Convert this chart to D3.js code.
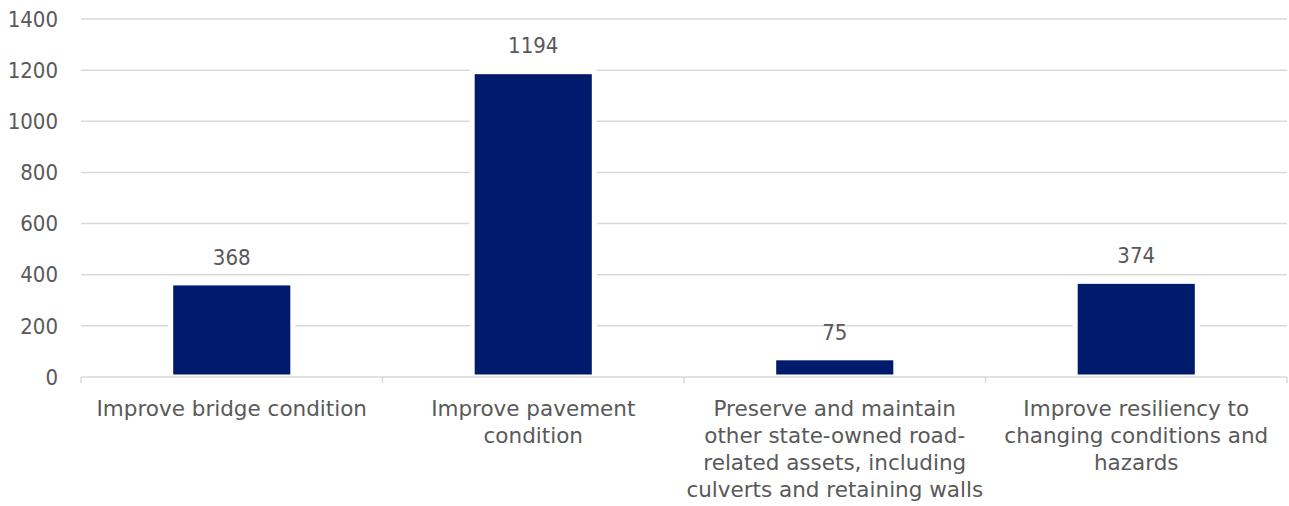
<html>

<head>
    <script src="https://d3js.org/d3.v7.min.js"></script>
    <style>
        body { margin: 0; background: #fff; }
        text { font-family: "DejaVu Sans Condensed", "DejaVu Sans", sans-serif; fill: #595959; }
        text.cat { font-family: "DejaVu Sans", sans-serif; }
    </style>
</head>

<body>
    <svg id="chart" width="1289" height="506"></svg>
    <script>
        // category labels, already broken into lines as in the original
        const categories = [
            ["Improve bridge condition"],
            ["Improve pavement", "condition"],
            ["Preserve and maintain", "other state-owned road-", "related assets, including", "culverts and retaining walls"],
            ["Improve resiliency to", "changing conditions and", "hazards"]
        ];
        const values = [368, 1194, 75, 374];
        const yTicks = [0, 200, 400, 600, 800, 1000, 1200, 1400];

        const svg = d3.select("#chart");
        const margins = { "top": 19, "right": 2, "bottom": 129, "left": 81 };
        const width = +svg.attr("width");
        const height = +svg.attr("height");
        const chartWidth = width - margins.left - margins.right;
        const chartHeight = height - margins.top - margins.bottom;

        const keys = categories.map((c, i) => i);

        const xScale = d3.scaleBand().domain(keys).range([0, chartWidth]).paddingInner(0).paddingOuter(0);
        const yScale = d3.scaleLinear().domain([0, 1400]).range([chartHeight, 0]);

        const g = svg.append("g")
            .attr("transform", "translate(" + margins.left + "," + margins.top + ")");

        // gridlines
        g.append("g")
            .selectAll("line")
            .data(yTicks.filter(t => t > 0))
            .join("line")
            .attr("x1", 0)
            .attr("x2", chartWidth)
            .attr("y1", d => yScale(d))
            .attr("y2", d => yScale(d))
            .attr("stroke", "#d9d9d9")
            .attr("stroke-width", 1.5);

        // y tick labels
        g.append("g")
            .selectAll("text")
            .data(yTicks)
            .join("text")
            .attr("x", -23)
            .attr("y", d => yScale(d))
            .attr("dy", "0.35em")
            .attr("text-anchor", "end")
            .attr("font-size", 22)
            .text(d => d);

        const barW = xScale.bandwidth() * 0.405;
        const barX = i => xScale(i) + (xScale.bandwidth() - barW) / 2;

        // white halo that breaks the gridlines around each bar
        g.append("g")
            .selectAll("rect")
            .data(values)
            .join("rect")
            .attr("x", (d, i) => barX(i) - 2)
            .attr("width", barW + 4)
            .attr("y", d => yScale(d) - 2)
            .attr("height", d => chartHeight - yScale(d) + 2)
            .attr("fill", "#fff");

        g.append("g")
            .selectAll("rect")
            .data(values)
            .join("rect")
            .attr("x", (d, i) => barX(i))
            .attr("width", barW)
            .attr("y", d => yScale(d))
            .attr("height", d => chartHeight - yScale(d))
            .attr("fill", "#001a6c")
            .attr("stroke", "#fff")
            .attr("stroke-width", 5);

        // value labels
        g.append("g")
            .selectAll("text")
            .data(values)
            .join("text")
            .attr("x", (d, i) => xScale(i) + xScale.bandwidth() / 2)
            .attr("y", d => yScale(d) - 26)
            .attr("dy", "0.35em")
            .attr("text-anchor", "middle")
            .attr("font-size", 22)
            .attr("fill", "#404040")
            .text(d => d);

        // bottom axis line with ticks at band boundaries
        g.append("line")
            .attr("x1", 0)
            .attr("x2", chartWidth)
            .attr("y1", chartHeight)
            .attr("y2", chartHeight)
            .attr("stroke", "#d9d9d9")
            .attr("stroke-width", 1.5);

        const bounds = keys.map(k => xScale(k)).concat([chartWidth]);
        g.append("g")
            .selectAll("line")
            .data(bounds)
            .join("line")
            .attr("x1", d => d)
            .attr("x2", d => d)
            .attr("y1", chartHeight)
            .attr("y2", chartHeight + 6)
            .attr("stroke", "#d9d9d9")
            .attr("stroke-width", 1.5);

        // category labels
        const catLabels = g.append("g")
            .selectAll("text")
            .data(categories)
            .join("text")
            .attr("class", "cat")
            .attr("x", (d, i) => xScale(i) + xScale.bandwidth() / 2)
            .attr("y", chartHeight + 31)
            .attr("dy", "0.35em")
            .attr("text-anchor", "middle")
            .attr("font-size", 21.5);

        catLabels.selectAll("tspan")
            .data(d => d)
            .join("tspan")
            .attr("x", function () { return d3.select(this.parentNode).attr("x"); })
            .attr("dy", (d, i) => i === 0 ? "0.35em" : 27)
            .text(d => d);
    </script>
</body>

</html>
